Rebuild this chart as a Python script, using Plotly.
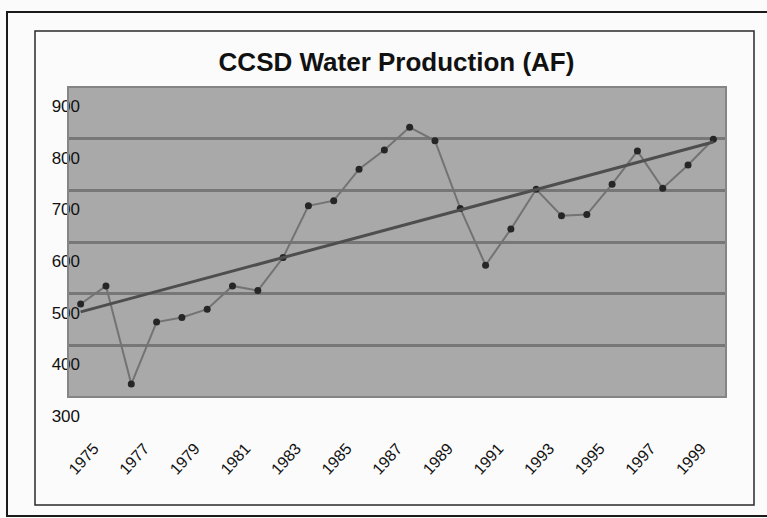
import numpy as np
import plotly.graph_objects as go

# ---- data ----
YEARS = list(range(1975, 2001))
PRODUCTION_AF = [480, 515, 325, 445, 454, 470, 515, 506, 570, 670, 680, 741, 778,
                 822, 796, 665, 555, 625, 702, 651, 653, 712, 776, 704, 749, 799]
X_TICKS = list(range(1975, 2000, 2))
X_TICK_LABELS = [str(y) for y in X_TICKS]
Y_TICKS = [300, 400, 500, 600, 700, 800, 900]
TITLE = "CCSD Water Production (AF)"

# linear trendline (least squares), as the spreadsheet trendline
coef = np.polyfit(YEARS, PRODUCTION_AF, 1)
trend = np.polyval(coef, YEARS)

W, H = 767, 518
L, R, T, B = 68, 726, 87, 397

fig = go.Figure()
fig.add_trace(go.Scatter(
    x=YEARS, y=PRODUCTION_AF, mode="lines+markers",
    line=dict(color="#737373", width=2),
    marker=dict(color="#262626", size=7),
    showlegend=False, hoverinfo="x+y"))
fig.add_trace(go.Scatter(
    x=YEARS, y=trend, mode="lines",
    line=dict(color="#4e4e4e", width=3),
    showlegend=False, hoverinfo="skip"))


def px_x(p):
    return (p - L) / (R - L)


def px_y(p):
    return (B - p) / (B - T)


shapes = [
    # outer frame (cut by the page edges on the right)
    dict(type="rect", xref="paper", yref="paper",
         x0=px_x(7), x1=px_x(790), y0=px_y(516), y1=px_y(12),
         line=dict(color="#1a1a1a", width=2), fillcolor="rgba(0,0,0,0)", layer="below"),
    # inner chart frame
    dict(type="rect", xref="paper", yref="paper",
         x0=px_x(35), x1=px_x(754), y0=px_y(505), y1=px_y(31),
         line=dict(color="#2a2a2a", width=1.5), fillcolor="rgba(0,0,0,0)", layer="below"),
    # plot area border
    dict(type="rect", xref="paper", yref="paper", x0=0, x1=1, y0=0, y1=1,
         line=dict(color="#858585", width=2), fillcolor="rgba(0,0,0,0)", layer="above"),
]

fig.update_layout(
    width=W, height=H,
    margin=dict(l=L, r=W - R, t=T, b=H - B),
    paper_bgcolor="#fbfbfb",
    plot_bgcolor="#a9a9a9",
    font=dict(family="Liberation Sans, Arial, sans-serif", color="#111111"),
    title=dict(text="<b>" + TITLE + "</b>", x=(396.5) / W, xanchor="center",
               y=1 - 62 / H, yanchor="middle",
               font=dict(size=26, color="#111111")),
    shapes=shapes,
    xaxis=dict(
        range=[1974.5, 2000.5], tickmode="array", tickvals=X_TICKS, ticktext=X_TICK_LABELS,
        tickangle=-48, showgrid=False, zeroline=False, showline=False, ticks="",
        tickfont=dict(size=16, color="#111111"),
        ticklabelshift=13, ticklabelstandoff=38),
    yaxis=dict(
        range=[300, 900], tickmode="array", tickvals=Y_TICKS,
        showgrid=True, gridcolor="#777777", gridwidth=3, zeroline=False,
        showline=False, ticks="",
        tickfont=dict(size=17, color="#111111"),
        ticklabelshift=19, ticklabelstandoff=-13),
)

fig.write_html(
    "out.html",
    config={"displayModeBar": False},
    post_script="document.body.style.margin='0';document.body.style.padding='0';",
)
